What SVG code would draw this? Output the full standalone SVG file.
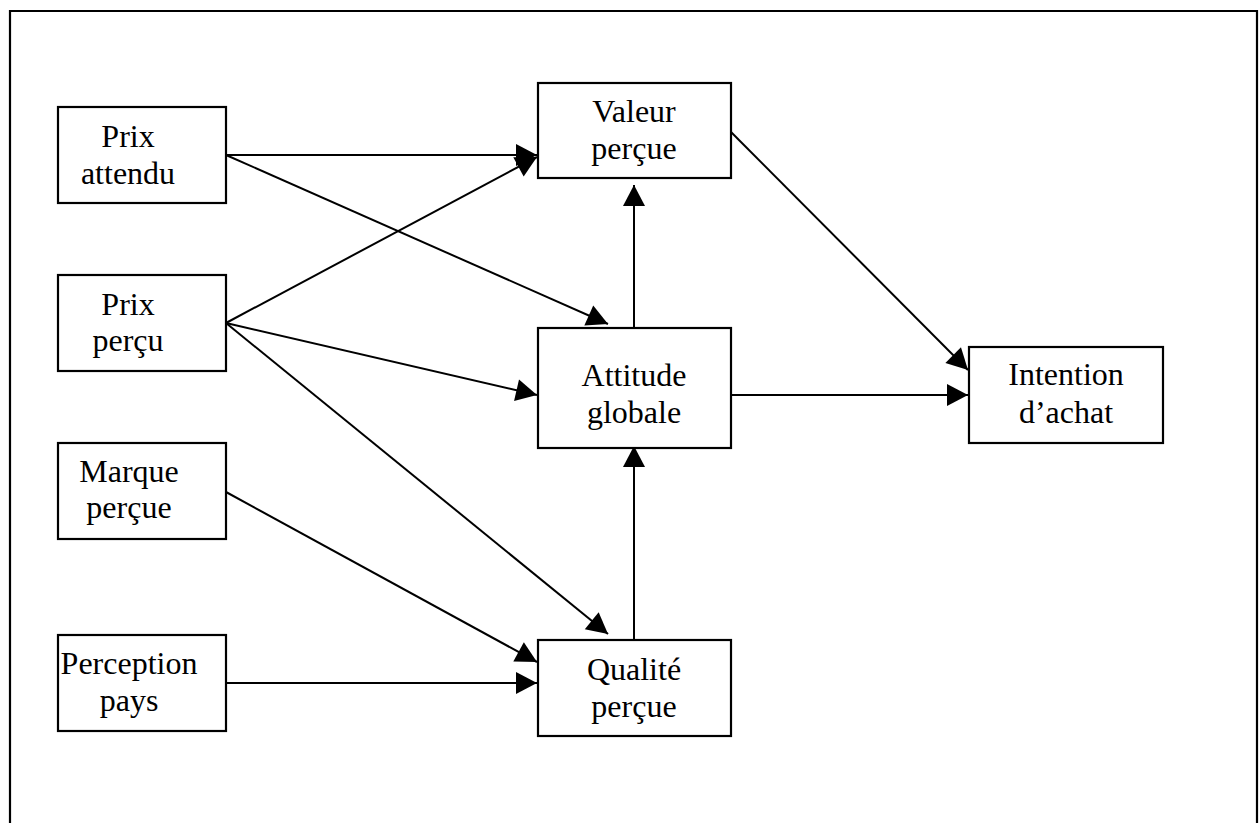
<svg xmlns="http://www.w3.org/2000/svg" width="1260" height="823" viewBox="0 0 1260 823">
  <defs>
    <marker id="arrow" markerUnits="userSpaceOnUse" markerWidth="23" markerHeight="24" refX="21" refY="11" orient="auto" overflow="visible">
      <path d="M0,0 L21,11 L0,22 z" fill="#000"/>
    </marker>
    <style>
      .box { fill: #fff; stroke: #000; stroke-width: 2.2; }
      .lbl { font-family: "Liberation Serif", "Times New Roman", serif; font-size: 32px; fill: #000; text-anchor: middle; }
      .edge { fill: none; stroke: #000; stroke-width: 2; marker-end: url(#arrow); }
    </style>
  </defs>
  <rect width="1260" height="823" fill="#fff"/>
  <!-- outer frame (open at the bottom) -->
  <path d="M10,830 L10,11 L1257,11 L1257,830" fill="none" stroke="#000" stroke-width="2.2"/>

  <g id="connectors">
    <path class="edge" d="M226,155 L537,155"/>
    <path class="edge" d="M226,155 L608,324"/>
    <path class="edge" d="M226,323 L537,157"/>
    <path class="edge" d="M226,323 L537,395"/>
    <path class="edge" d="M226,323 L608,634"/>
    <path class="edge" d="M226,492 L537,662"/>
    <path class="edge" d="M226,683 L537,683"/>
    <path class="edge" d="M634,640 L634,446"/>
    <path class="edge" d="M634,328 L634,185"/>
    <path class="edge" d="M731,132 L968,370"/>
    <path class="edge" d="M731,395 L968,395"/>
  </g>

  <g id="prix-attendu">
    <rect class="box" x="58" y="107" width="168" height="96"/>
    <text class="lbl" x="128" y="147">Prix</text>
    <text class="lbl" x="128" y="184">attendu</text>
  </g>
  <g id="prix-percu">
    <rect class="box" x="58" y="275" width="168" height="96"/>
    <text class="lbl" x="128" y="315">Prix</text>
    <text class="lbl" x="128" y="351">perçu</text>
  </g>
  <g id="marque-percue">
    <rect class="box" x="58" y="443" width="168" height="96"/>
    <text class="lbl" x="129" y="482">Marque</text>
    <text class="lbl" x="129" y="518">perçue</text>
  </g>
  <g id="perception-pays">
    <rect class="box" x="58" y="635" width="168" height="96"/>
    <text class="lbl" x="129" y="674">Perception</text>
    <text class="lbl" x="129" y="711">pays</text>
  </g>
  <g id="valeur-percue">
    <rect class="box" x="538" y="83" width="193" height="95"/>
    <text class="lbl" x="634" y="122">Valeur</text>
    <text class="lbl" x="634" y="159">perçue</text>
  </g>
  <g id="attitude-globale">
    <rect class="box" x="538" y="328" width="193" height="120"/>
    <text class="lbl" x="634" y="386">Attitude</text>
    <text class="lbl" x="634" y="423">globale</text>
  </g>
  <g id="qualite-percue">
    <rect class="box" x="538" y="640" width="193" height="96"/>
    <text class="lbl" x="634" y="680">Qualité</text>
    <text class="lbl" x="634" y="717">perçue</text>
  </g>
  <g id="intention-achat">
    <rect class="box" x="969" y="347" width="194" height="96"/>
    <text class="lbl" x="1066" y="385">Intention</text>
    <text class="lbl" x="1066" y="423">d’achat</text>
  </g>
</svg>
